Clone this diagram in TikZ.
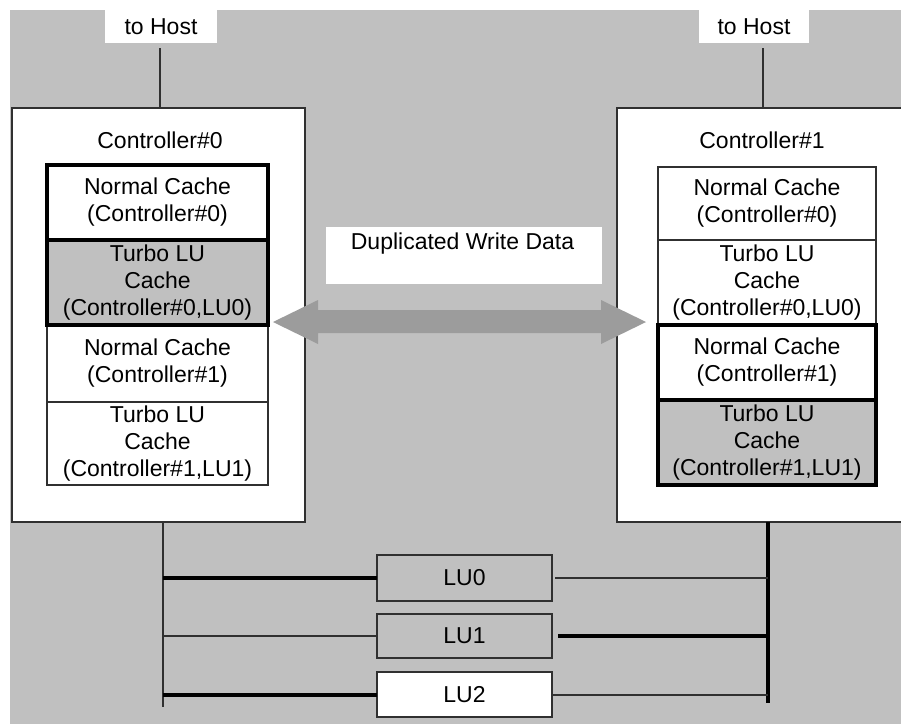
\documentclass[tikz,border=0pt]{standalone}
\usepackage{fontspec}
\setmainfont{Liberation Sans}
\definecolor{bg}{HTML}{C0C0C0}
\definecolor{arr}{HTML}{9C9C9C}
\definecolor{ln}{HTML}{303030}
\begin{document}
\begin{tikzpicture}[x=1pt,y=-1pt,
  txt/.style={font=\fontsize{23}{27}\selectfont, inner sep=0pt, align=center},
  thinln/.style={draw=ln, line width=2pt},
  thickln/.style={draw=black, line width=4pt},
  whitebox/.style={fill=white, inner sep=0pt, outer sep=0pt},
  cachebox/.style={txt, anchor=north west, outer sep=0pt},
  lubox/.style={txt, thinln, anchor=north west, minimum width=175pt, outer sep=0pt},
]
\useasboundingbox (0,0) rectangle (901,724);
\fill[bg] (10,10) rectangle (901,724);

% host boxes
\node[whitebox, txt, minimum width=112pt, minimum height=33pt] (host0) at (161,26.5) {to Host};
\node[whitebox, txt, minimum width=110pt, minimum height=33pt] (host1) at (754,26.5) {to Host};

% controllers
\node[whitebox, thinln, anchor=north west, minimum width=293pt, minimum height=414pt] (ctrl0) at (12,108) {};
\node[whitebox, thinln, anchor=north west, minimum width=320pt, minimum height=414pt] (ctrl1) at (617,108) {};
\node[txt] (c0lab) at (160,140) {Controller\#0};
\node[txt] (c1lab) at (762,140) {Controller\#1};

% host connectors
\draw[thinln, shorten <=5pt] (host0.south -| 160,0) -- (160,108);
\draw[thinln, shorten <=5pt] (host1.south -| 763,0) -- (763,108);

% left cache stack (thin first, thick on top)
\node[cachebox, thinln, minimum width=221pt, minimum height=77pt] (l3) at (47,325) {Normal Cache\\(Controller\#1)};
\node[cachebox, thinln, minimum width=221pt, minimum height=83pt] (l4) at (47,402) {Turbo LU\\Cache\\(Controller\#1,LU1)};
\node[cachebox, thickln, fill=white, minimum width=221pt, minimum height=75pt] (l1) at (47,165) {Normal Cache\\(Controller\#0)};
\node[cachebox, thickln, fill=bg, minimum width=221pt, minimum height=85pt] (l2) at (47,240) {Turbo LU\\Cache\\(Controller\#0,LU0)};

% right cache stack
\node[cachebox, thinln, minimum width=218pt, minimum height=73pt] (r1) at (658,167) {Normal Cache\\(Controller\#0)};
\node[cachebox, thinln, minimum width=218pt, minimum height=85pt] (r2) at (658,240) {Turbo LU\\Cache\\(Controller\#0,LU0)};
\node[cachebox, thickln, fill=white, minimum width=218pt, minimum height=75pt] (r3) at (658,325) {Normal Cache\\(Controller\#1)};
\node[cachebox, thickln, fill=bg, minimum width=218pt, minimum height=85pt] (r4) at (658,400) {Turbo LU\\Cache\\(Controller\#1,LU1)};

% duplicated write data label
\node[whitebox, anchor=north west, minimum width=276pt, minimum height=57pt] (dupbox) at (326,227) {};
\node[txt] (duplab) at (462.5,244) {Duplicated Write Data};

% double arrow
\fill[arr] (273,322) -- (318,300) -- (318,310) -- (601,310) -- (601,300) -- (646,322)
  -- (601,344) -- (601,333) -- (318,333) -- (318,344) -- cycle;

% buses
\coordinate (busLt) at (163,522);
\coordinate (busLb) at (163,707);
\coordinate (busRt) at (768,522);
\coordinate (busRb) at (768,703);
\draw[thinln] (busLt) -- (busLb);
\draw[thickln] (busRt) -- (busRb);

% LU boxes
\node[lubox, fill=bg, minimum height=46pt] (lu0) at (377,555) {LU0};
\node[lubox, fill=bg, minimum height=44pt] (lu1) at (377,614) {LU1};
\node[lubox, fill=white, minimum height=45pt] (lu2) at (377,672) {LU2};

% LU connectors
\draw[thickln] (busLt |- lu0.west) -- (lu0.west);
\draw[thinln, shorten <=3pt] (lu0.east) -- (busRt |- lu0.east);
\draw[thinln] (busLt |- lu1.west) -- (lu1.west);
\draw[thickln, shorten <=6pt] (lu1.east) -- (busRt |- lu1.east);
\draw[thickln] (busLt |- lu2.west) -- (lu2.west);
\draw[thinln] (lu2.east) -- (busRt |- lu2.east);
\end{tikzpicture}
\end{document}
